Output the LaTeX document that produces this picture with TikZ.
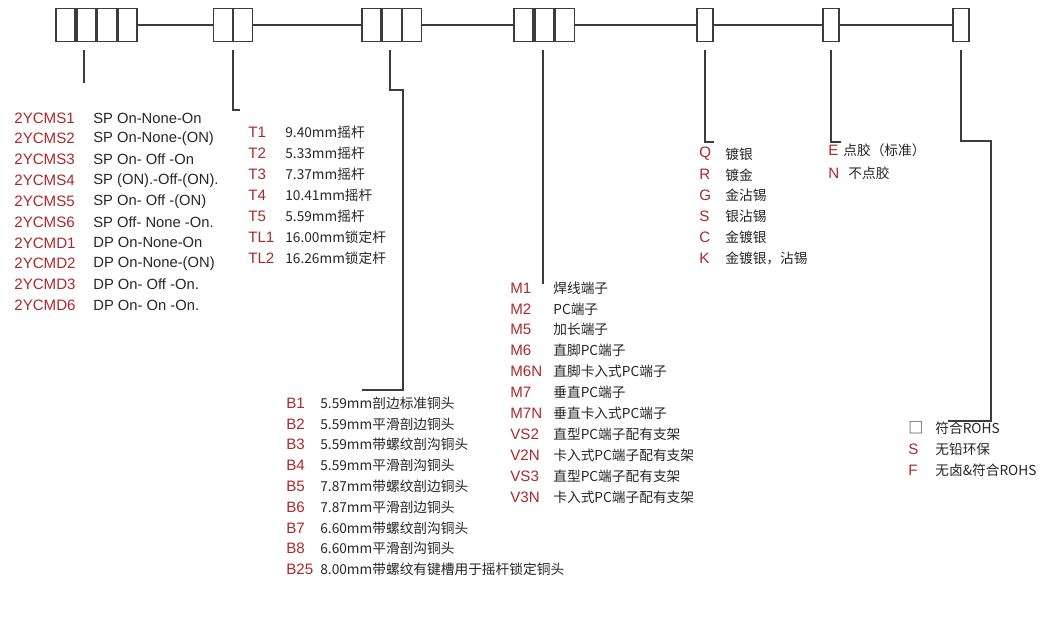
\documentclass[tikz,border=0pt]{standalone}
\usepackage{fontspec}
\setmainfont{Liberation Sans}
\newfontfamily\cjk{Noto Sans CJK SC}
\usetikzlibrary{positioning}
\definecolor{codered}{RGB}{172,40,44}
\definecolor{linegray}{RGB}{60,60,60}
\tikzset{
  slot/.style={draw=linegray, line width=0.8pt, minimum width=0.38cm, minimum height=0.66cm, inner sep=0pt, outer sep=0pt},
  lead/.style={draw=linegray, line width=0.6pt},
  code/.style={anchor=west, text=codered, font=\fontsize{8.6}{9}\selectfont, inner sep=0pt},
  desc/.style={anchor=west, text=black!85, font=\fontsize{8.4}{9}\selectfont, inner sep=0pt},
  cdesc/.style={anchor=west, text=black!85, font=\cjk\fontsize{7.8}{9}\selectfont, inner sep=0pt}
}
\begin{document}
\begin{tikzpicture}[x=0.02cm,y=-0.02cm]
\useasboundingbox (0,0) rectangle (1044,621);

% top row of slots
\foreach \i/\x in {1/65.5,2/86.5,3/107,4/127.5}
  \node[slot] (a\i) at (\x,25) {};
\foreach \i/\x in {1/223,2/243}
  \node[slot] (b\i) at (\x,25) {};
\foreach \i/\x in {1/371.5,2/392,3/412}
  \node[slot] (c\i) at (\x,25) {};
\foreach \i/\x in {1/523.5,2/544.5,3/565}
  \node[slot] (d\i) at (\x,25) {};
\node[slot, minimum width=0.32cm] (e1) at (705,25) {};
\node[slot, minimum width=0.32cm] (f1) at (831,25) {};
\node[slot, minimum width=0.32cm] (g1) at (961,25) {};

\draw[lead] (a4) -- (b1);
\draw[lead] (b2) -- (c1);
\draw[lead] (c3) -- (d1);
\draw[lead] (d3) -- (e1);
\draw[lead] (e1) -- (f1);
\draw[lead] (f1) -- (g1);

% leads down to the lists
\draw[lead] (84,50) -- (84,83);
\draw[lead] (233,50) -- (233,110) -- (240,110);
\draw[lead] (390,50) -- (390,90) -- (403,90) -- (403,390) -- (362,390);
\draw[lead] (543,50) -- (543,284);
\draw[lead] (705,50) -- (705,142) -- (714,142);
\draw[lead] (831,50) -- (831,142) -- (841,142);
\draw[lead] (961,50) -- (961,141) -- (991,141) -- (991,421) -- (948,421);

% switch types
\foreach [count=\n] \c/\t in {2YCMS1/SP On-None-On,2YCMS2/SP On-None-(ON),2YCMS3/SP On- Off -On,
  2YCMS4/SP (ON).-Off-(ON).,2YCMS5/SP On- Off -(ON),2YCMS6/SP Off- None -On.,
  2YCMD1/DP On-None-On,2YCMD2/DP On-None-(ON),2YCMD3/DP On- Off -On.,2YCMD6/DP On- On -On.}
{
  \node[code] (sw\n) at (14,{118+(\n-1)*20.8}) {\c};
  \node[desc] at (93,{118+(\n-1)*20.8}) {\t};
}

% levers
\foreach [count=\n] \c/\t in {T1/9.40mm摇杆,T2/5.33mm摇杆,T3/7.37mm摇杆,T4/10.41mm摇杆,
  T5/5.59mm摇杆,TL1/16.00mm锁定杆,TL2/16.26mm锁定杆}
{
  \node[code] (lv\n) at (248,{132+(\n-1)*21}) {\c};
  \node[cdesc] at (285,{132+(\n-1)*21}) {\t};
}

% bushings
\foreach [count=\n] \c/\t in {B1/5.59mm剖边标准铜头,B2/5.59mm平滑剖边铜头,B3/5.59mm带螺纹剖沟铜头,
  B4/5.59mm平滑剖沟铜头,B5/7.87mm带螺纹剖边铜头,B6/7.87mm平滑剖边铜头,
  B7/6.60mm带螺纹剖沟铜头,B8/6.60mm平滑剖沟铜头,B25/8.00mm带螺纹有键槽用于摇杆锁定铜头}
{
  \node[code] (bs\n) at (286,{403+(\n-1)*20.8}) {\c};
  \node[cdesc] at (320,{403+(\n-1)*20.8}) {\t};
}

% terminals
\foreach [count=\n] \c/\t in {M1/焊线端子,M2/PC端子,M5/加长端子,M6/直脚PC端子,M6N/直脚卡入式PC端子,
  M7/垂直PC端子,M7N/垂直卡入式PC端子,VS2/直型PC端子配有支架,V2N/卡入式PC端子配有支架,
  VS3/直型PC端子配有支架,V3N/卡入式PC端子配有支架}
{
  \node[code] (tm\n) at (510,{288+(\n-1)*20.9}) {\c};
  \node[cdesc] at (553,{288+(\n-1)*20.9}) {\t};
}

% plating
\foreach [count=\n] \c/\t in {Q/镀银,R/镀金,G/金沾锡,S/银沾锡,C/金镀银,K/金镀银，沾锡}
{
  \node[code] (pl\n) at (699,{154+(\n-1)*20.8}) {\c};
  \node[cdesc] at (725,{154+(\n-1)*20.8}) {\t};
}

% epoxy
\node[code] (ep1) at (828,150) {E};
\node[cdesc] at (843,150) {点胶（标准）};
\node[code] (ep2) at (828,173) {N};
\node[cdesc] at (848,173) {不点胶};

% rohs
\node[code, text=black!85, font=\cjk\fontsize{8.6}{9}\selectfont] (rh1) at (908,428) {□};
\node[cdesc] at (935,428) {符合ROHS};
\node[code] (rh2) at (908,449) {S};
\node[cdesc] at (935,449) {无铅环保};
\node[code] (rh3) at (908,470) {F};
\node[cdesc] at (935,470) {无卤\&符合ROHS};
\end{tikzpicture}
\end{document}
